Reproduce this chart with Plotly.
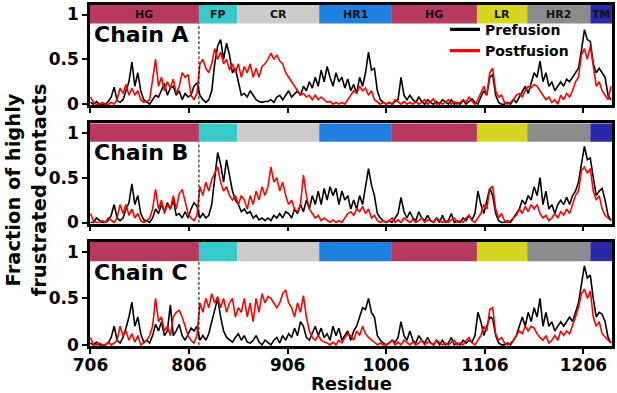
import plotly.graph_objects as go

# ---------------- data ----------------
residues = list(range(706, 1235, 3))

chains = ["Chain A", "Chain B", "Chain C"]

A_pre = [
0.02,0.00,0.03,0.00,0.00,0.00,0.03,0.08,0.19,0.04,
0.02,0.05,0.15,0.25,0.47,0.20,0.35,0.15,0.05,0.02,
0.00,0.05,0.10,0.08,0.15,0.23,0.10,0.18,0.20,0.10,
0.15,0.05,0.12,0.08,0.10,0.20,0.24,0.10,0.05,0.02,
0.05,0.15,0.45,0.65,0.72,0.50,0.68,0.55,0.35,0.40,
0.25,0.10,0.12,0.08,0.15,0.10,0.05,0.03,0.02,0.03,
0.03,0.05,0.02,0.08,0.10,0.05,0.10,0.15,0.08,0.12,
0.15,0.10,0.20,0.15,0.25,0.18,0.30,0.20,0.38,0.25,
0.42,0.30,0.20,0.35,0.25,0.30,0.18,0.28,0.15,0.22,
0.12,0.30,0.20,0.35,0.58,0.38,0.40,0.15,0.05,0.02,
0.00,0.02,0.00,0.03,0.05,0.30,0.10,0.05,0.10,0.05,
0.02,0.08,0.03,0.00,0.05,0.02,0.00,0.03,0.00,0.05,
0.02,0.00,0.05,0.00,0.02,0.00,0.04,0.00,0.03,0.06,
0.02,0.00,0.08,0.15,0.10,0.30,0.33,0.10,0.02,0.00,
0.00,0.02,0.00,0.05,0.02,0.08,0.15,0.20,0.12,0.25,
0.35,0.30,0.48,0.25,0.35,0.20,0.25,0.15,0.20,0.25,
0.20,0.28,0.25,0.30,0.35,0.40,0.60,0.83,0.72,0.70,
0.45,0.35,0.40,0.35,0.30,0.10,0.05]

A_post = [
0.08,0.02,0.00,0.00,0.02,0.00,0.00,0.02,0.00,0.05,
0.18,0.12,0.22,0.10,0.18,0.10,0.15,0.05,0.02,0.03,
0.05,0.25,0.50,0.20,0.30,0.15,0.25,0.18,0.28,0.12,
0.20,0.35,0.30,0.33,0.10,0.05,0.12,0.45,0.50,0.40,
0.35,0.45,0.62,0.50,0.58,0.45,0.50,0.38,0.45,0.35,
0.45,0.30,0.42,0.35,0.45,0.30,0.40,0.30,0.42,0.45,
0.50,0.57,0.50,0.55,0.48,0.45,0.35,0.30,0.25,0.20,
0.15,0.10,0.12,0.08,0.10,0.05,0.10,0.05,0.08,0.05,
0.02,0.03,0.00,0.02,0.00,0.02,0.00,0.05,0.10,0.15,
0.12,0.20,0.15,0.18,0.10,0.15,0.05,0.02,0.00,0.02,
0.00,0.02,0.00,0.05,0.02,0.00,0.03,0.00,0.02,0.00,
0.03,0.00,0.02,0.05,0.00,0.03,0.06,0.00,0.02,0.00,
0.02,0.05,0.00,0.03,0.00,0.02,0.05,0.02,0.08,0.03,
0.00,0.05,0.12,0.20,0.10,0.35,0.40,0.15,0.08,0.10,
0.02,0.00,0.02,0.05,0.10,0.12,0.08,0.15,0.20,0.18,
0.22,0.20,0.15,0.10,0.05,0.08,0.02,0.05,0.00,0.10,
0.05,0.12,0.08,0.15,0.25,0.30,0.55,0.62,0.50,0.65,
0.40,0.20,0.25,0.15,0.10,0.05,0.20]

B_pre = [
0.00,0.00,0.05,0.02,0.00,0.00,0.02,0.08,0.20,0.05,
0.02,0.05,0.15,0.22,0.43,0.20,0.30,0.10,0.03,0.02,
0.00,0.05,0.15,0.10,0.20,0.12,0.22,0.15,0.25,0.08,
0.10,0.05,0.12,0.05,0.15,0.22,0.18,0.05,0.10,0.05,
0.08,0.20,0.50,0.78,0.65,0.45,0.70,0.50,0.35,0.25,
0.20,0.12,0.15,0.10,0.12,0.05,0.08,0.03,0.05,0.02,
0.05,0.02,0.08,0.05,0.10,0.05,0.12,0.10,0.05,0.15,
0.10,0.20,0.12,0.25,0.15,0.30,0.20,0.35,0.20,0.38,
0.25,0.40,0.30,0.38,0.20,0.35,0.25,0.30,0.15,0.25,
0.15,0.30,0.20,0.40,0.60,0.42,0.30,0.10,0.05,0.02,
0.00,0.02,0.00,0.05,0.10,0.28,0.12,0.05,0.12,0.05,
0.02,0.12,0.05,0.02,0.08,0.02,0.00,0.05,0.00,0.08,
0.00,0.02,0.10,0.00,0.02,0.00,0.05,0.02,0.08,0.03,
0.10,0.35,0.20,0.10,0.25,0.38,0.30,0.10,0.02,0.00,
0.00,0.02,0.00,0.05,0.10,0.15,0.25,0.20,0.30,0.25,
0.40,0.30,0.50,0.20,0.35,0.15,0.20,0.10,0.20,0.25,
0.20,0.28,0.20,0.30,0.35,0.45,0.65,0.85,0.70,0.72,
0.50,0.30,0.35,0.38,0.25,0.08,0.02]

B_post = [
0.10,0.02,0.00,0.00,0.02,0.00,0.05,0.02,0.00,0.05,
0.20,0.10,0.20,0.08,0.15,0.05,0.10,0.02,0.00,0.02,
0.05,0.15,0.37,0.15,0.25,0.10,0.20,0.15,0.30,0.15,
0.32,0.37,0.25,0.10,0.05,0.02,0.08,0.40,0.30,0.45,
0.35,0.48,0.55,0.62,0.45,0.35,0.40,0.30,0.25,0.30,
0.20,0.30,0.25,0.15,0.30,0.20,0.35,0.25,0.40,0.30,
0.40,0.62,0.45,0.50,0.35,0.45,0.30,0.20,0.25,0.15,
0.12,0.20,0.53,0.30,0.15,0.10,0.05,0.08,0.02,0.05,
0.02,0.00,0.03,0.00,0.02,0.00,0.05,0.10,0.12,0.08,
0.15,0.12,0.18,0.10,0.15,0.05,0.08,0.02,0.00,0.02,
0.00,0.02,0.05,0.00,0.03,0.00,0.05,0.02,0.00,0.03,
0.00,0.02,0.05,0.00,0.03,0.02,0.00,0.05,0.02,0.00,
0.02,0.00,0.03,0.05,0.00,0.02,0.00,0.05,0.08,0.02,
0.00,0.05,0.10,0.20,0.15,0.38,0.40,0.15,0.05,0.10,
0.02,0.00,0.02,0.05,0.08,0.15,0.10,0.18,0.12,0.20,
0.15,0.20,0.10,0.05,0.08,0.02,0.05,0.10,0.05,0.12,
0.08,0.15,0.10,0.20,0.30,0.35,0.58,0.62,0.55,0.60,
0.35,0.25,0.30,0.15,0.08,0.05,0.02]

C_pre = [
0.02,0.00,0.03,0.00,0.00,0.00,0.02,0.08,0.20,0.05,
0.02,0.08,0.18,0.30,0.46,0.20,0.30,0.12,0.03,0.05,
0.02,0.10,0.22,0.15,0.25,0.10,0.15,0.43,0.10,0.15,
0.22,0.10,0.05,0.12,0.18,0.15,0.20,0.05,0.10,0.05,
0.12,0.25,0.38,0.50,0.30,0.15,0.08,0.05,0.03,0.08,
0.12,0.05,0.10,0.03,0.02,0.05,0.10,0.03,0.00,0.05,
0.02,0.00,0.05,0.08,0.02,0.10,0.05,0.12,0.08,0.18,
0.10,0.25,0.20,0.08,0.05,0.12,0.20,0.10,0.18,0.08,
0.12,0.05,0.20,0.10,0.18,0.05,0.10,0.15,0.05,0.15,
0.20,0.30,0.40,0.38,0.50,0.35,0.30,0.10,0.05,0.02,
0.00,0.02,0.05,0.03,0.08,0.25,0.10,0.05,0.15,0.05,
0.02,0.10,0.05,0.02,0.08,0.02,0.00,0.05,0.00,0.05,
0.00,0.02,0.08,0.00,0.02,0.00,0.05,0.02,0.05,0.03,
0.10,0.35,0.25,0.10,0.20,0.30,0.28,0.10,0.02,0.00,
0.00,0.02,0.00,0.05,0.10,0.20,0.30,0.20,0.35,0.25,
0.40,0.30,0.50,0.20,0.35,0.20,0.25,0.15,0.20,0.25,
0.20,0.25,0.30,0.25,0.35,0.45,0.65,0.85,0.72,0.75,
0.50,0.30,0.35,0.33,0.25,0.08,0.02]

C_post = [
0.08,0.00,0.00,0.02,0.00,0.00,0.03,0.00,0.02,0.05,
0.20,0.10,0.15,0.05,0.12,0.03,0.10,0.00,0.02,0.05,
0.10,0.20,0.50,0.25,0.30,0.15,0.20,0.10,0.30,0.35,
0.37,0.30,0.20,0.10,0.05,0.02,0.10,0.45,0.35,0.50,
0.40,0.55,0.45,0.52,0.40,0.50,0.35,0.45,0.50,0.30,
0.40,0.35,0.50,0.30,0.45,0.25,0.50,0.35,0.55,0.45,
0.52,0.50,0.45,0.40,0.45,0.55,0.59,0.45,0.40,0.30,
0.45,0.35,0.53,0.30,0.15,0.08,0.05,0.10,0.05,0.03,
0.02,0.00,0.03,0.00,0.05,0.02,0.08,0.12,0.10,0.05,
0.15,0.10,0.20,0.12,0.08,0.05,0.02,0.00,0.02,0.00,
0.00,0.02,0.05,0.00,0.03,0.00,0.05,0.02,0.00,0.03,
0.00,0.02,0.05,0.00,0.03,0.02,0.00,0.05,0.02,0.00,
0.02,0.00,0.03,0.05,0.00,0.02,0.00,0.05,0.08,0.02,
0.00,0.05,0.10,0.20,0.15,0.38,0.40,0.12,0.05,0.08,
0.02,0.00,0.02,0.05,0.10,0.15,0.12,0.20,0.15,0.20,
0.18,0.12,0.08,0.05,0.10,0.02,0.05,0.10,0.05,0.15,
0.10,0.15,0.12,0.20,0.30,0.40,0.55,0.60,0.50,0.58,
0.30,0.20,0.25,0.12,0.08,0.05,0.02]

prefusion = [A_pre, B_pre, C_pre]
postfusion = [A_post, B_post, C_post]
series_names = ["Prefusion", "Postfusion"]
series_colors = ["black", "#ff0000"]

domain_names = ["HG", "FP", "CR", "HR1", "HG", "LR", "HR2", "TM"]
domain_starts = [705.5, 816, 855, 938, 1011, 1098, 1149, 1213]
domain_ends = [816, 855, 938, 1011, 1098, 1149, 1213, 1235]
domain_colors = ["#b73a5e", "#36caca", "#cccccc", "#1f80e0",
                 "#b73a5e", "#d6d620", "#8c8c8c", "#2828a8"]

fusion_site = 816
x_ticks = [706, 806, 906, 1006, 1106, 1206]
y_ticks = [0, 0.5, 1]
bar_low, bar_high = 0.9, 1.106

# ---------------- figure ----------------
FONT = "DejaVu Sans"
fig = go.Figure()

domains_y = [[0.706, 1.0], [0.359, 0.653], [0.0, 0.305]]

for i in range(3):
    xa = "x" if i == 0 else f"x{i+1}"
    ya = "y" if i == 0 else f"y{i+1}"
    for vals, nm, col in zip([prefusion[i], postfusion[i]], series_names, series_colors):
        fig.add_trace(go.Scatter(x=residues, y=vals, mode="lines",
                                 line=dict(color=col, width=1.6),
                                 name=nm, showlegend=False,
                                 xaxis=xa, yaxis=ya))
    # domain bar
    for n, s, e, c in zip(domain_names, domain_starts, domain_ends, domain_colors):
        fig.add_shape(type="rect", xref=xa, yref=ya, x0=s, x1=e,
                      y0=bar_low, y1=bar_high, fillcolor=c,
                      line=dict(width=0), layer="below")
        if i == 0:
            fig.add_annotation(x=(s + e) / 2, y=(bar_low + bar_high) / 2,
                               xref=xa, yref=ya, text=n, showarrow=False,
                               yanchor="middle",
                               font=dict(family=FONT, size=11, color="#111111",
                                         weight="bold"))
    # dashed fusion line
    fig.add_shape(type="line", xref=xa, yref=ya, x0=fusion_site, x1=fusion_site,
                  y0=0, y1=bar_low,
                  line=dict(color="black", width=1, dash="3px,2px"))
    # chain label
    fig.add_annotation(x=708, y=0.78, xref=xa, yref=ya, text=chains[i],
                       showarrow=False, xanchor="left", yanchor="middle",
                       font=dict(family=FONT, size=22, color="black", weight="bold"))

    axis_common = dict(showline=True, linecolor="black", linewidth=2.5,
                       mirror=True, ticks="outside", tickcolor="black",
                       tickwidth=1.5, ticklen=5, showgrid=False, zeroline=False,
                       tickfont=dict(family=FONT, size=17, color="black", weight="bold"))
    xkey = "xaxis" if i == 0 else f"xaxis{i+1}"
    ykey = "yaxis" if i == 0 else f"yaxis{i+1}"
    fig.update_layout(**{
        xkey: dict(axis_common, range=[705.5, 1235], tickvals=x_ticks,
                   ticktext=[str(v) for v in x_ticks], ticklabelstandoff=-3,
                   showticklabels=(i == 2), anchor=ya, domain=[0, 1]),
        ykey: dict(axis_common, range=[-0.012, bar_high], tickvals=y_ticks,
                   ticktext=["0", "0.5", "1"], anchor=xa, domain=domains_y[i]),
    })

# legend entries (thicker sample lines, like the reference legend)
for nm, col in zip(series_names, series_colors):
    fig.add_trace(go.Scatter(x=[None], y=[None], mode="lines",
                             line=dict(color=col, width=3.2), name=nm,
                             showlegend=True, xaxis="x", yaxis="y"))

fig.add_annotation(x=0.5, y=-0.11, xref="paper", yref="paper",
                   text="Residue", showarrow=False, yanchor="middle",
                   font=dict(family=FONT, size=18, color="black", weight="bold"))
fig.add_annotation(x=-0.121, y=0.459, xref="paper", yref="paper",
                   text="Fraction of highly<br>frustrated contacts",
                   showarrow=False, textangle=-90, xanchor="center", yanchor="middle",
                   font=dict(family=FONT, size=19.5, color="black", weight="bold"))

fig.update_layout(
    width=617, height=393,
    margin=dict(l=90, r=2, t=2, b=47),
    plot_bgcolor="white", paper_bgcolor="white",
    font=dict(family=FONT, color="black", weight="bold"),
    legend=dict(x=0.68, y=0.974, xanchor="left", yanchor="top",
                bgcolor="rgba(0,0,0,0)", tracegroupgap=0,
                font=dict(family=FONT, size=14, color="black", weight="bold"),
                itemwidth=30),
    showlegend=True,
)

fig.write_html("out.html", config={"displayModeBar": False},
               post_script="document.body.style.margin='0';document.body.style.overflow='hidden';")
